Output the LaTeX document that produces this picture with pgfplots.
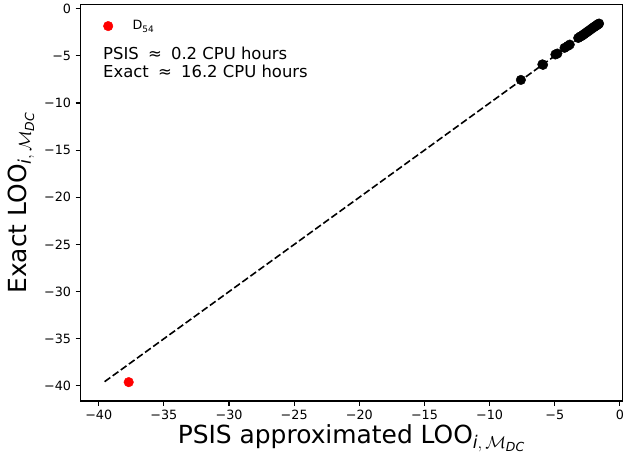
\documentclass[border=0pt]{standalone}
\usepackage{fontspec}
\setmainfont{DejaVu Sans}
\usepackage{amsmath}
\usepackage{pgfplots}
\pgfplotsset{compat=1.18}
\begin{document}
\begin{tikzpicture}
\begin{axis}[
  scale only axis,
  width=542bp, height=396.5bp,
  xmin=-41.4, xmax=0.2,
  ymin=-41.6, ymax=0.45,
  axis line style={line width=1.1bp, black},
  tick align=outside, tick pos=left,
  major tick length=4.9bp,
  tick style={line width=1.1bp, black},
  xtick={-40,-35,...,0},
  xticklabels={−40,−35,−30,−25,−20,−15,−10,−5,0},
  ytick={-40,-35,...,0},
  yticklabels={−40,−35,−30,−25,−20,−15,−10,−5,0},
  tick label style={font=\fontsize{12.8}{14}\selectfont},
  xticklabel style={yshift=-1bp},
  yticklabel style={xshift=-1bp},
  xlabel={PSIS approximated LOO$_{\textit{i},\,\mathcal{M}_{\textit{DC}}}$},
  ylabel={Exact LOO$_{\textit{i},\,\mathcal{M}_{\textit{DC}}}$},
  label style={font=\fontsize{25}{28}\selectfont},
  xlabel style={yshift=2bp},
  ylabel style={yshift=3bp},
  legend style={draw=none, fill=none, at={(rel axis cs:0.0,1.0)}, anchor=north west,
    xshift=16bp, yshift=-12bp,
    font=\fontsize{12.8}{14}\selectfont},
  legend image code/.code={\draw[#1] plot coordinates {(8.5bp,0bp)}; \path[draw=none,fill=none] (0bp,0bp) (31bp,0bp);},
  legend cell align=left,
]
\coordinate (sw) at (rel axis cs:0,0);
\coordinate (ne) at (rel axis cs:1,1);
\addplot[only marks, mark=*, mark size=4.8bp, red, mark options={draw=red, fill=red}]
  coordinates {(-37.7,-39.6)};
\addlegendentry{D\textsubscript{54}}
\addplot[black, line width=1.6bp, dash pattern=on 7bp off 3bp, forget plot]
  coordinates {(-39.55,-39.55) (-1.55,-1.55)};
\addplot[only marks, mark=*, mark size=4.8bp, black, forget plot]
  coordinates {
  (-7.6,-7.55) (-5.95,-5.9) (-5.9,-5.95) (-4.95,-4.85) (-4.8,-4.75)
  (-4.25,-4.15) (-4.0,-3.95) (-3.85,-3.8) (-3.2,-3.1) (-3.05,-2.95)
  (-2.95,-2.9) (-2.85,-2.8) (-2.75,-2.7) (-2.65,-2.6) (-2.55,-2.5)
  (-2.45,-2.4) (-2.35,-2.3) (-2.25,-2.2) (-2.15,-2.1) (-2.05,-2.0)
  (-1.98,-1.93) (-1.9,-1.86) (-1.83,-1.8) (-1.76,-1.73) (-1.7,-1.67)
  (-1.65,-1.62) (-1.6,-1.57)
  };
\node[anchor=base west, font=\fontsize{16.5}{18}\selectfont, inner sep=0pt]
  at (rel axis cs:0.0415,0.862) {PSIS\hspace{4bp} ≈\hspace{4bp} 0.2 CPU hours};
\node[anchor=base west, font=\fontsize{16.5}{18}\selectfont, inner sep=0pt]
  at (rel axis cs:0.0415,0.815) {Exact\hspace{4bp} ≈\hspace{4bp} 16.2 CPU hours};
\end{axis}
\pgfresetboundingbox
\path[use as bounding box] ([shift={(-80.5bp,-61bp)}]sw) rectangle ([shift={(2.5bp,4.5bp)}]ne);
\end{tikzpicture}
\end{document}
